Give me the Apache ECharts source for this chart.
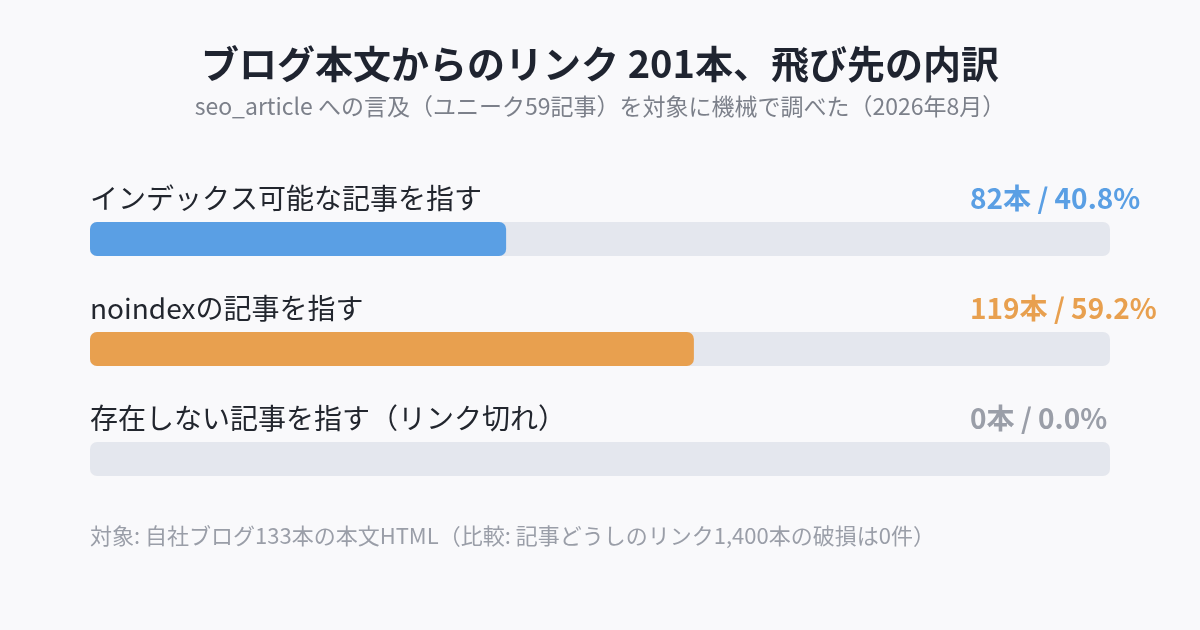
<!DOCTYPE html>
<html><head><meta charset="utf-8">
<script src="https://cdn.jsdelivr.net/npm/echarts@6/dist/echarts.min.js"></script>
<style>html,body{margin:0;background:#f9f9fb}#c{width:1200px;height:630px}</style>
</head><body><div id="c"></div>
<script>
var categories = ['インデックス可能な記事を指す', 'noindexの記事を指す', '存在しない記事を指す（リンク切れ）'];
var counts = [82, 119, 0];
var shares = ['40.8%', '59.2%', '0.0%'];
var total = 201;
var colors = ['#5a9fe4', '#e8a04f', '#9a9ea8'];
var font = '"Noto Sans CJK JP", "Noto Sans", sans-serif';

var chart = echarts.init(document.getElementById('c'));
var styleKeys = ['a', 'b', 'c'];
var rich = {n: {fontSize: 28, color: '#22262e', width: 880, fontFamily: font}};
styleKeys.forEach(function (k, i) {
  rich[k] = {fontSize: 28, fontWeight: 'bold', color: colors[i], fontFamily: font};
});

chart.setOption({
  backgroundColor: '#f9f9fb',
  title: {
    text: 'ブログ本文からのリンク 201本、飛び先の内訳',
    subtext: 'seo_article への言及（ユニーク59記事）を対象に機械で調べた（2026年8月）',
    left: 'center', top: 40, itemGap: 12,
    textStyle: {fontSize: 38, fontWeight: 'bold', color: '#1f2430', fontFamily: font},
    subtextStyle: {fontSize: 23, color: '#7c808a', fontFamily: font}
  },
  graphic: [{
    type: 'text', left: 90, top: 525,
    style: {text: '対象: 自社ブログ133本の本文HTML（比較: 記事どうしのリンク1,400本の破損は0件）',
      fontSize: 22, fill: '#9a9ea8', fontFamily: font}
  }],
  grid: {left: 90, right: 90, top: 184, bottom: 116},
  xAxis: {type: 'value', min: 0, max: total, show: false},
  yAxis: {type: 'category', data: categories, inverse: true, show: false},
  series: [{
    type: 'bar', barWidth: 34, silent: true, z: 1,
    data: categories.map(function () { return total; }),
    itemStyle: {color: '#e4e7ee', borderRadius: 7},
    label: {
      show: true, position: [0, -38],
      formatter: function (p) {
        var i = p.dataIndex;
        return '{n|' + categories[i] + '}{' + styleKeys[i] + '|' + counts[i] + '本 / ' + shares[i] + '}';
      },
      rich: rich
    }
  }, {
    type: 'bar', barWidth: 34, barGap: '-100%', z: 2,
    data: counts.map(function (v, i) { return {value: v, itemStyle: {color: colors[i]}}; }),
    itemStyle: {borderRadius: 7}
  }]
});
</script></body></html>
